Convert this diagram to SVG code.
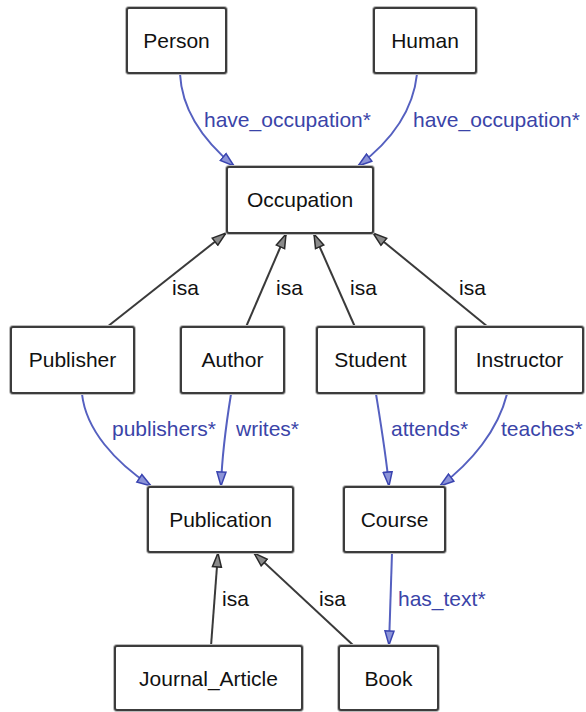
<svg xmlns="http://www.w3.org/2000/svg" width="586" height="712" viewBox="0 0 586 712">
<style>
.box rect.halo{fill:none;stroke:#bbbbbb;stroke-width:4}
.box rect.main{fill:#ffffff;stroke:#3c3c3c;stroke-width:2}
.box text{font-family:"Liberation Sans",Arial,sans-serif;font-size:21px;fill:#111;text-anchor:middle}
.rel{fill:none;stroke:#5560c0;stroke-width:2;marker-end:url(#ab)}
.isa{fill:none;stroke:#3a3a3a;stroke-width:2;marker-end:url(#ak)}
.lb{font-family:"Liberation Sans",Arial,sans-serif;font-size:21px;fill:#3a44a8}
.lk{font-family:"Liberation Sans",Arial,sans-serif;font-size:21px;fill:#111}
</style>
<defs>
<marker id="ab" markerUnits="userSpaceOnUse" markerWidth="16" markerHeight="12" viewBox="0 0 16 12" refX="15" refY="6" orient="auto">
<path d="M1,1.5 L15,6 L1,10.5 Z" fill="#8c94d8" stroke="#3a44b0" stroke-width="1.5"/>
</marker>
<marker id="ak" markerUnits="userSpaceOnUse" markerWidth="16" markerHeight="12" viewBox="0 0 16 12" refX="15" refY="6" orient="auto">
<path d="M1,1.5 L15,6 L1,10.5 Z" fill="#8a8a8a" stroke="#2a2a2a" stroke-width="1.5"/>
</marker>
</defs>
<rect width="586" height="712" fill="#ffffff"/>
<g id="connectors">
<path class="rel" d="M180,74 C182,112 205,142 234,166"/>
<path class="rel" d="M417,74 C413,112 390,142 358,166"/>
<path class="isa" d="M107,327 L226,233"/>
<path class="isa" d="M246,327 L286,234"/>
<path class="isa" d="M355,327 L314,234"/>
<path class="isa" d="M488,327 L373,233"/>
<path class="rel" d="M82,394 C86,430 115,462 151,486"/>
<path class="rel" d="M231,394 C226,425 222,455 221,486"/>
<path class="rel" d="M376,394 C381,425 386,455 389,486"/>
<path class="rel" d="M507,394 C498,430 472,462 440,486"/>
<path class="rel" d="M392,553 C391,585 390,615 389,645"/>
<path class="isa" d="M211,646 L218,553"/>
<path class="isa" d="M354,646 L254,553"/>
</g>
<g id="labels">
<text class="lb" x="204" y="127">have_occupation*</text>
<text class="lb" x="413" y="127">have_occupation*</text>
<text class="lk" x="172" y="295">isa</text>
<text class="lk" x="276" y="295">isa</text>
<text class="lk" x="350" y="295">isa</text>
<text class="lk" x="459" y="295">isa</text>
<text class="lb" x="112" y="436">publishers*</text>
<text class="lb" x="236" y="436">writes*</text>
<text class="lb" x="391" y="436">attends*</text>
<text class="lb" x="501" y="436">teaches*</text>
<text class="lk" x="222" y="606">isa</text>
<text class="lk" x="319" y="606">isa</text>
<text class="lb" x="398" y="606">has_text*</text>
</g>
<g id="n-person" class="box"><rect class="halo" x="127" y="8" width="99" height="65" rx="2"/><rect class="main" x="127" y="8" width="99" height="65" rx="2"/><text x="176.5" y="48">Person</text></g>
<g id="n-human" class="box"><rect class="halo" x="374" y="8" width="102" height="65" rx="2"/><rect class="main" x="374" y="8" width="102" height="65" rx="2"/><text x="425" y="48">Human</text></g>
<g id="n-occupation" class="box"><rect class="halo" x="227" y="167" width="146" height="66" rx="2"/><rect class="main" x="227" y="167" width="146" height="66" rx="2"/><text x="300" y="207">Occupation</text></g>
<g id="n-publisher" class="box"><rect class="halo" x="11" y="327" width="123" height="66" rx="2"/><rect class="main" x="11" y="327" width="123" height="66" rx="2"/><text x="72.5" y="367">Publisher</text></g>
<g id="n-author" class="box"><rect class="halo" x="181" y="327" width="103" height="66" rx="2"/><rect class="main" x="181" y="327" width="103" height="66" rx="2"/><text x="232.5" y="367">Author</text></g>
<g id="n-student" class="box"><rect class="halo" x="317" y="327" width="107" height="66" rx="2"/><rect class="main" x="317" y="327" width="107" height="66" rx="2"/><text x="370.5" y="367">Student</text></g>
<g id="n-instructor" class="box"><rect class="halo" x="456" y="327" width="127" height="66" rx="2"/><rect class="main" x="456" y="327" width="127" height="66" rx="2"/><text x="519.5" y="367">Instructor</text></g>
<g id="n-publication" class="box"><rect class="halo" x="148" y="487" width="145" height="65" rx="2"/><rect class="main" x="148" y="487" width="145" height="65" rx="2"/><text x="220.5" y="527">Publication</text></g>
<g id="n-course" class="box"><rect class="halo" x="344" y="487" width="101" height="65" rx="2"/><rect class="main" x="344" y="487" width="101" height="65" rx="2"/><text x="394.5" y="527">Course</text></g>
<g id="n-journal" class="box"><rect class="halo" x="115" y="646" width="187" height="64" rx="2"/><rect class="main" x="115" y="646" width="187" height="64" rx="2"/><text x="208.5" y="686">Journal_Article</text></g>
<g id="n-book" class="box"><rect class="halo" x="339" y="646" width="99" height="64" rx="2"/><rect class="main" x="339" y="646" width="99" height="64" rx="2"/><text x="388.5" y="686">Book</text></g>
</svg>
